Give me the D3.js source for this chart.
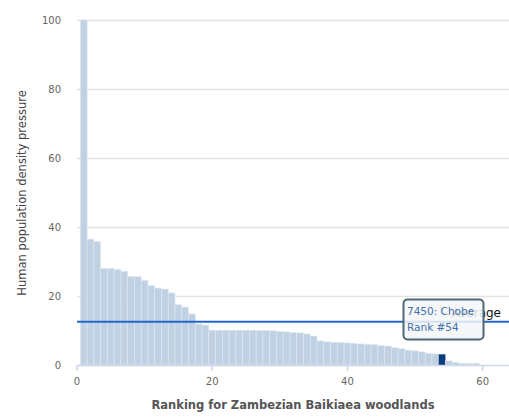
<!DOCTYPE html>
<html><head><meta charset="utf-8">
<script src="https://cdn.jsdelivr.net/npm/d3@7/dist/d3.min.js"></script>
<style>body{margin:0;background:#fff}svg{display:block}</style>
</head><body><svg id="c" width="509" height="419"></svg>
<script>
const ranks = d3.range(1, 60);
const values = [100,36.5,35.8,28.0,28.0,27.7,27.2,25.6,25.6,24.5,
  23.0,22.3,22.0,20.9,17.5,16.8,14.8,11.9,11.6,10.1,
  10.1,10.1,10.1,10.1,10.1,10.1,10.0,10.0,9.9,9.7,
  9.6,9.4,9.3,9.0,8.4,7.0,6.7,6.6,6.6,6.4,
  6.3,6.1,6.0,5.9,5.7,5.5,5.0,4.7,4.3,4.1,
  3.8,3.4,3.2,3.1,1.2,0.8,0.5,0.5,0.5];
const yTicks = [0,20,40,60,80,100];
const xTicks = [0,20,40,60];
const average = 12.55;
const highlightRank = 54;
const tooltipLines = ["7450: Chobe", "Rank #54"];
const averageLabel = "Average";
const yTitle = "Human population density pressure";
const xTitle = "Ranking for Zambezian Baikiaea woodlands";

const svg = d3.select("#c");
const L = 77, R = 509, T = 20, B = 365;
const x = d3.scaleLinear().domain([0, 63.9]).range([L, R]);
const y = d3.scaleLinear().domain([0, 100]).range([B, T]);
const font = "'DejaVu Sans', Verdana, sans-serif";

// gridlines
svg.append("g").selectAll("line").data(yTicks.filter(d => d > 0)).join("line")
  .attr("x1", L).attr("x2", R).attr("y1", d => Math.round(y(d)) + 0.5).attr("y2", d => Math.round(y(d)) + 0.5)
  .attr("stroke", "#e3e3e3").attr("stroke-width", 1.5);

// y tick labels
svg.append("g").selectAll("text").data(yTicks).join("text")
  .attr("x", 61).attr("y", d => y(d) + 3.5).attr("text-anchor", "end")
  .attr("font-family", font).attr("font-size", 10).attr("fill", "#666").text(d => d);

// bars
const bw = x(1) - x(0);
svg.append("g").selectAll("rect").data(ranks).join("rect")
  .attr("x", (d) => x(d) - bw / 2).attr("width", bw)
  .attr("y", (d, i) => y(values[i])).attr("height", (d, i) => B - y(values[i]))
  .attr("fill", d => d === highlightRank ? "#0b3d7e" : "#c1d1e4")
  .attr("stroke", d => d === highlightRank ? "none" : "#dfe7f1").attr("stroke-width", 0.6);

// x axis line and ticks
svg.append("line").attr("x1", L).attr("x2", R).attr("y1", B + 0.5).attr("y2", B + 0.5)
  .attr("stroke", "#ccd6eb").attr("stroke-width", 1.5);
svg.append("g").selectAll("line").data(xTicks).join("line")
  .attr("x1", d => x(d)).attr("x2", d => x(d)).attr("y1", B).attr("y2", B + 6)
  .attr("stroke", "#ccd6eb").attr("stroke-width", 1.5);
svg.append("g").selectAll("text").data(xTicks).join("text")
  .attr("x", d => x(d)).attr("y", 385).attr("text-anchor", "middle")
  .attr("font-family", font).attr("font-size", 10).attr("fill", "#666").text(d => d);

// average line
svg.append("line").attr("x1", L).attr("x2", R).attr("y1", y(average)).attr("y2", y(average))
  .attr("stroke", "#2266cc").attr("stroke-width", 2);
svg.append("text").attr("x", 501).attr("y", 317).attr("text-anchor", "end")
  .attr("font-family", font).attr("font-size", 12).attr("fill", "#111").text(averageLabel);

// tooltip
svg.append("rect").attr("x", 403.5).attr("y", 299.5).attr("width", 80).attr("height", 40).attr("rx", 4)
  .attr("fill", "#f4f6f7").attr("fill-opacity", 0.85).attr("stroke", "#4e6878").attr("stroke-width", 2);
svg.append("g").selectAll("text").data(tooltipLines).join("text")
  .attr("x", 407).attr("y", (d, i) => 315 + i * 15.5)
  .attr("font-family", font).attr("font-size", 10.5).attr("fill", "#3f6fa8").text(d => d);

// axis titles
svg.append("text").attr("transform", "translate(26,193) rotate(-90)").attr("text-anchor", "middle")
  .attr("font-family", font).attr("font-size", 11.5).attr("fill", "#444").text(yTitle);
svg.append("text").attr("x", 293).attr("y", 409).attr("text-anchor", "middle")
  .attr("font-family", font).attr("font-size", 11.5).attr("font-weight", "bold").attr("fill", "#555").text(xTitle);
</script></body></html>
